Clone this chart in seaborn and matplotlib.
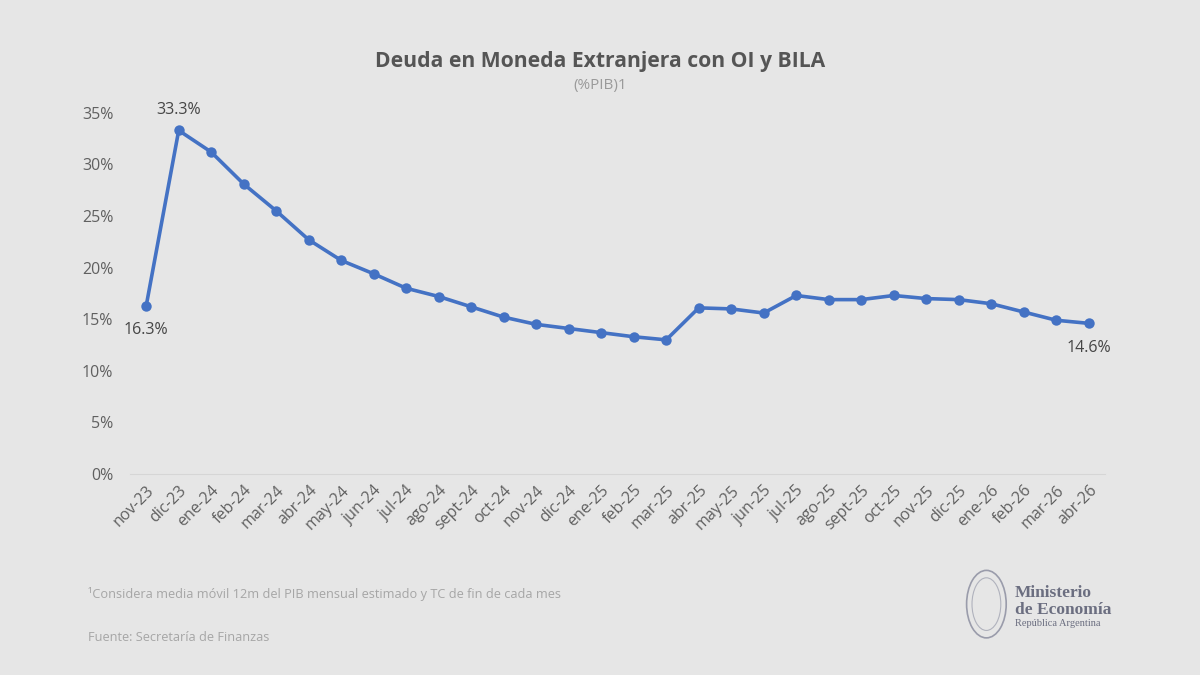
import matplotlib
matplotlib.use('Agg')
import matplotlib.pyplot as plt
from matplotlib.patches import Ellipse
import seaborn as sns
import pandas as pd
import numpy as np

# data (% of GDP)
meses = ['nov-23', 'dic-23', 'ene-24', 'feb-24', 'mar-24', 'abr-24', 'may-24', 'jun-24',
         'jul-24', 'ago-24', 'sept-24', 'oct-24', 'nov-24', 'dic-24', 'ene-25', 'feb-25',
         'mar-25', 'abr-25', 'may-25', 'jun-25', 'jul-25', 'ago-25', 'sept-25', 'oct-25',
         'nov-25', 'dic-25', 'ene-26', 'feb-26', 'mar-26', 'abr-26']
deuda = [16.3, 33.3, 31.2, 28.1, 25.5, 22.7, 20.7, 19.4,
         18.0, 17.2, 16.2, 15.2, 14.5, 14.1, 13.7, 13.3,
         13.0, 16.1, 16.0, 15.6, 17.3, 16.9, 16.9, 17.3,
         17.0, 16.9, 16.5, 15.7, 14.9, 14.6]
yticks = [0, 5, 10, 15, 20, 25, 30, 35]

BG = '#e6e6e6'
BLUE = '#4472c4'

sns.set_theme(style='white')
plt.rcParams['font.family'] = ['Open Sans', 'DejaVu Sans']

df = pd.DataFrame({'mes': meses, 'deuda': deuda})

fig = plt.figure(figsize=(12, 6.75), dpi=100, facecolor=BG)
ax = fig.add_axes([0.1083, 0.2978, 0.8125, 0.535])
ax.set_facecolor(BG)

sns.lineplot(data=df, x='mes', y='deuda', ax=ax, color=BLUE, linewidth=2.6,
             marker='o', markersize=7.5, markeredgewidth=0, sort=False)

ax.set_xlim(-0.5, len(meses) - 0.5)
ax.set_ylim(0, 35)
ax.set_yticks(yticks)
ax.set_yticklabels([f'{v}%' for v in yticks], fontsize=11.5, color='#606060')
ax.set_xticks(range(len(meses)))
ax.set_xticklabels(meses, rotation=45, ha='right', rotation_mode='anchor',
                   fontsize=11.5, color='#606060')
ax.tick_params(axis='x', length=0, pad=6)
ax.tick_params(axis='y', length=0, pad=12)
# small marks between categories
ax.set_xticks(np.arange(-0.5, len(meses)), minor=True)
ax.tick_params(axis='x', which='minor', length=4, color='#d6d6d6', width=0.8)
ax.set_xlabel('')
ax.set_ylabel('')
for s in ['top', 'right', 'left']:
    ax.spines[s].set_visible(False)
ax.spines['bottom'].set_color('#d6d6d6')
ax.spines['bottom'].set_linewidth(0.8)

# data labels
ax.annotate('33.3%', (1, deuda[1]), xytext=(0, 9), textcoords='offset points',
            ha='center', va='bottom', fontsize=11.5, color='#454545')
ax.annotate('16.3%', (0, deuda[0]), xytext=(0, -12), textcoords='offset points',
            ha='center', va='top', fontsize=11.5, color='#454545')
ax.annotate('14.6%', (len(meses) - 1, deuda[-1]), xytext=(0, -12), textcoords='offset points',
            ha='center', va='top', fontsize=11.5, color='#454545')

# title
fig.text(0.5, 0.909, 'Deuda en Moneda Extranjera con OI y BILA', ha='center', va='center',
         fontsize=15.2, fontweight='bold', color='#555555')
fig.text(0.5, 0.874, '(%PIB)1', ha='center', va='center', fontsize=11, color='#9a9a9a')

# footnotes
fig.text(0.073, 0.12, '¹Considera media móvil 12m del PIB mensual estimado y TC de fin de cada mes',
         ha='left', va='center', fontsize=9.2, color='#a6a6a6')
fig.text(0.073, 0.055, 'Fuente: Secretaría de Finanzas', ha='left', va='center',
         fontsize=9.2, color='#a6a6a6')

# logo
logo = '#6b6e80'
fig.patches.append(Ellipse((0.822, 0.105), 0.033, 0.10, transform=fig.transFigure,
                           fill=False, edgecolor='#9a9cab', linewidth=1.2))
fig.patches.append(Ellipse((0.822, 0.105), 0.024, 0.078, transform=fig.transFigure,
                           fill=False, edgecolor='#b0b2bd', linewidth=0.8))
fig.text(0.846, 0.121, 'Ministerio', ha='left', va='center', fontsize=12.5,
         family='Liberation Serif', fontweight='bold', color=logo)
fig.text(0.846, 0.097, 'de Economía', ha='left', va='center', fontsize=12.5,
         family='Liberation Serif', fontweight='bold', color=logo)
fig.text(0.846, 0.076, 'República Argentina', ha='left', va='center', fontsize=7.5,
         family='Liberation Serif', color=logo)

fig.savefig('out.png', dpi=100, facecolor=BG)
